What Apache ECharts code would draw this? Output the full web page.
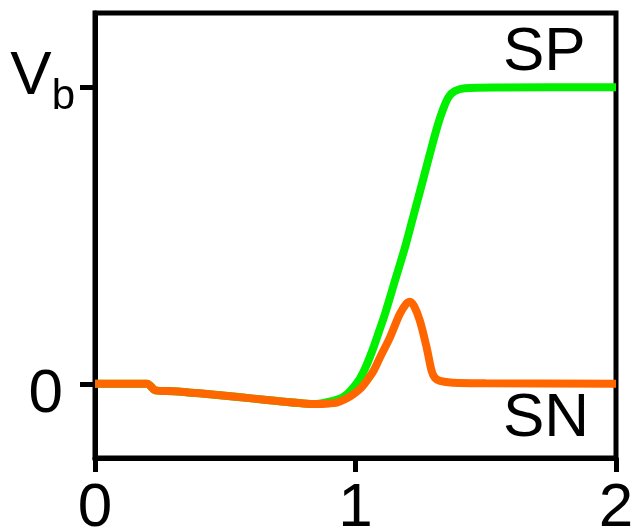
<!DOCTYPE html>
<html>
<head>
<meta charset="utf-8">
<script src="https://cdn.jsdelivr.net/npm/echarts@6/dist/echarts.min.js"></script>
<style>
  html, body { margin: 0; padding: 0; background: #fff; }
  #chart { width: 635px; height: 531px; }
</style>
</head>
<body>
<div id="chart"></div>
<script>
// x ticks and y ticks (1 = Vb)
const xTicks = [0, 1, 2]
const yTicks = [0, 1]
const yTickLabels = ['0', 'Vb']

// SP (green) trace: [x, y]
const spPoints = [
  [0, 0], [0.2, 0], [0.232, -0.022], [0.3, -0.025], [0.4, -0.032], [0.5, -0.04],
  [0.6, -0.049], [0.7, -0.058], [0.8, -0.066], [0.85, -0.068], [0.9, -0.06],
  [0.94, -0.05], [0.966, -0.036], [0.99, -0.014], [1.017, 0.018], [1.04, 0.058],
  [1.068, 0.12], [1.09, 0.176], [1.113, 0.235], [1.151, 0.346], [1.19, 0.46],
  [1.222, 0.565], [1.26, 0.69], [1.29, 0.79], [1.315, 0.87], [1.336, 0.925],
  [1.356, 0.965], [1.38, 0.986], [1.42, 0.996], [1.55, 0.999], [2, 1.0]
]

// SN (orange) trace: [x, y]
const snPoints = [
  [0, 0], [0.2, 0], [0.232, -0.022], [0.3, -0.025], [0.4, -0.032], [0.5, -0.04],
  [0.6, -0.049], [0.7, -0.058], [0.8, -0.066], [0.85, -0.068], [0.9, -0.066],
  [0.928, -0.063], [0.96, -0.052], [0.992, -0.035], [1.02, -0.015], [1.043, 0.01],
  [1.07, 0.045], [1.094, 0.089], [1.132, 0.156], [1.17, 0.235], [1.195, 0.27],
  [1.209, 0.277], [1.225, 0.262], [1.247, 0.213], [1.273, 0.123], [1.292, 0.044],
  [1.305, 0.02], [1.324, 0.01], [1.374, 0.004], [1.5, 0.002], [2, 0]
]

const font = '"Liberation Sans", Arial, sans-serif'

const chart = echarts.init(document.getElementById('chart'), null, { renderer: 'canvas' })

chart.setOption({
  animation: false,
  grid: {
    left: 95, right: 19, top: 13, bottom: 73,
    outerBoundsMode: 'none',
    show: true, borderColor: '#000', borderWidth: 5, backgroundColor: 'transparent'
  },
  xAxis: {
    type: 'value', min: 0, max: 2, interval: 1,
    splitLine: { show: false },
    axisLine: { onZero: false, lineStyle: { color: '#000', width: 5 } },
    axisTick: { show: true, length: 14, lineStyle: { color: '#000', width: 5 } },
    axisLabel: {
      margin: 20, color: '#000', fontSize: 62, fontFamily: font,
      customValues: xTicks,
      formatter: v => String(v)
    }
  },
  yAxis: {
    type: 'value', min: -0.25, max: 1.25,
    splitLine: { show: false },
    axisLine: { onZero: false, lineStyle: { color: '#000', width: 5 } },
    axisTick: { show: true, length: 15, customValues: yTicks, lineStyle: { color: '#000', width: 5 } },
    axisLabel: {
      margin: 20, color: '#000', fontSize: 62, fontFamily: font,
      customValues: yTicks,
      formatter: v => {
        const lab = yTickLabels[yTicks.indexOf(v)]
        return lab === 'Vb' ? '{v|V}{s|b}' : '{z|' + lab + '}'
      },
      rich: {
        v: { fontSize: 62, lineHeight: 62, fontFamily: font, color: '#000', verticalAlign: 'bottom', padding: [0, 0, 10, 0] },
        s: { fontSize: 42, lineHeight: 42, fontFamily: font, color: '#000', verticalAlign: 'bottom' },
        z: { fontSize: 62, fontFamily: font, color: '#000', padding: [22, 12, 0, 0] }
      }
    }
  },
  graphic: [
    { type: 'text', left: 503, top: 22, style: { text: 'SP', fontSize: 62, fontFamily: font, fill: '#000' } },
    { type: 'text', left: 503, top: 388, style: { text: 'SN', fontSize: 62, fontFamily: font, fill: '#000' } }
  ],
  series: [
    {
      name: 'SP', type: 'line', data: spPoints, smooth: 0.3, showSymbol: false,
      lineStyle: { color: '#00f000', width: 8 }
    },
    {
      name: 'SN', type: 'line', data: snPoints, smooth: 0.3, showSymbol: false,
      lineStyle: { color: '#ff6600', width: 8 }
    }
  ]
})
</script>
</body>
</html>
